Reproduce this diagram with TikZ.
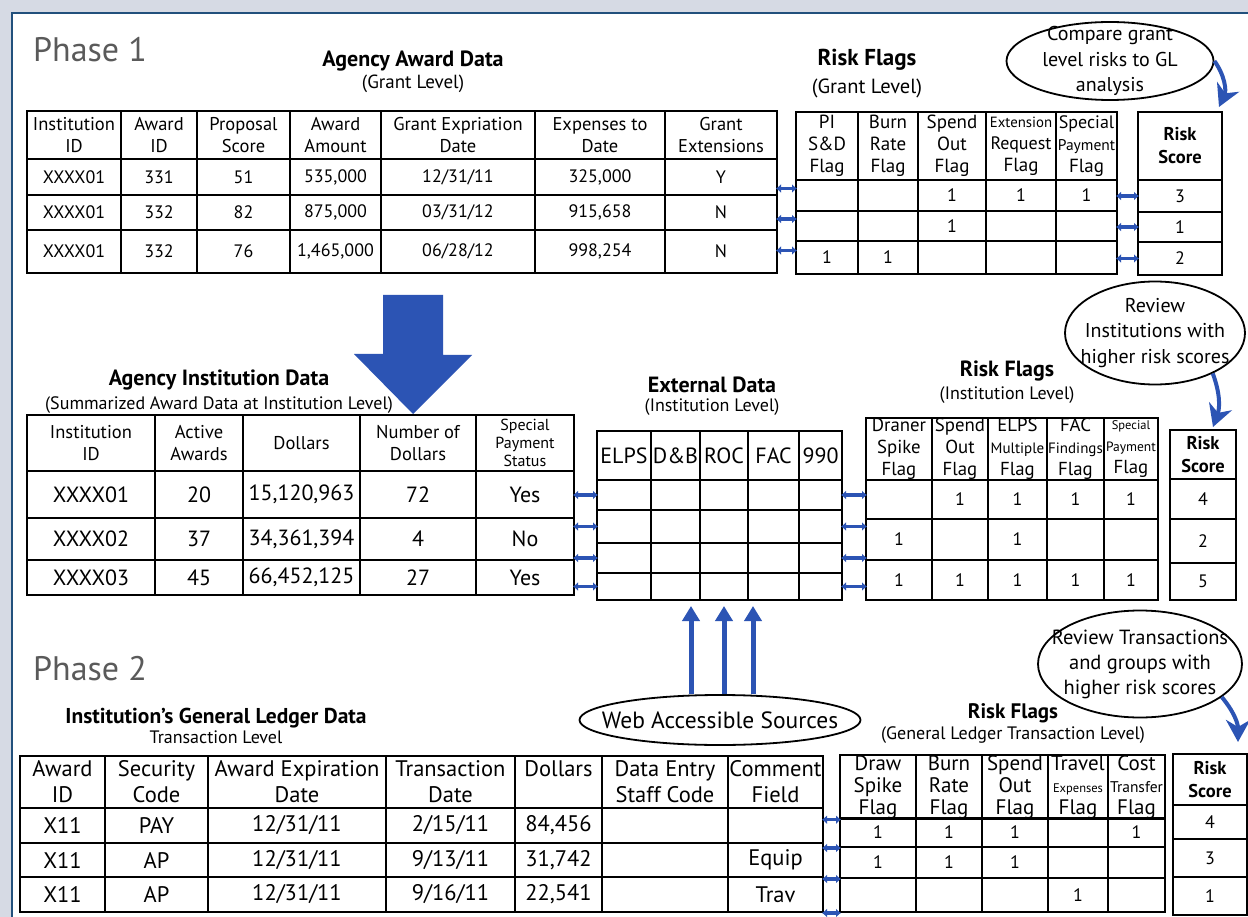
\documentclass[tikz,border=0pt]{standalone}
\usepackage{fontspec}
\setmainfont{PT Sans}
\usetikzlibrary{arrows.meta,shapes.geometric,positioning}

\definecolor{flow}{RGB}{44,84,180}
\definecolor{band}{RGB}{214,218,228}
\definecolor{frameblue}{RGB}{34,80,124}
\definecolor{phasegray}{RGB}{90,90,90}

\newcommand\setfs[2]{\fontsize{#1}{#2}\selectfont}
\newcommand\shrink[2]{{\fontsize{#1}{#1}\selectfont #2}}
% one table row: [style]{name}{top}{bottom}{xleft/xright/text,...}
\newcommand\trow[5][]{%
  \foreach \xa/\xb/\txt [count=\c] in {#5}
    \node[cell,#1,minimum width={\xb-\xa},minimum height={#4-#3}]
      (#2-\c) at ({(\xa+\xb)/2},{(#3+#4)/2}) {\txt};}

\begin{document}
\begin{tikzpicture}[x=1pt,y=-1pt,
  cell/.style={draw=black,line width=2pt,inner sep=0pt,align=center,font=\setfs{18}{22}},
  awhead/.style={font=\setfs{18.5}{22}},
  flaghead/.style={font=\setfs{18}{22}},
  rghead/.style={font=\setfs{19}{22}},
  rihead/.style={font=\setfs{18.8}{22}},
  rthead/.style={font=\setfs{21}{22}},
  bigcell/.style={font=\setfs{22}{26}},
  ledger/.style={font=\setfs{22.5}{26}},
  scorecell/.style={font=\setfs{18.5}{23}\bfseries},
  ttl/.style={inner sep=0pt,font=\setfs{22}{26}\bfseries},
  subttl/.style={inner sep=0pt,font=\setfs{18}{21}},
  phasettl/.style={inner sep=0pt,anchor=base west,text=phasegray,font=\setfs{34}{40}},
  note/.style={ellipse,draw=black,line width=1.8pt,align=center,inner sep=-30pt,font=\setfs{20}{25.5}},
  dbl/.style={flow,line width=3.5pt,shorten <=-2pt,shorten >=-2pt,{Latex[length=5pt,width=9pt]}-{Latex[length=5pt,width=9pt]}},
  curlarrow/.style={flow,line width=4pt,-{Stealth[length=22pt,width=24pt,inset=7pt]}},
  feedarrow/.style={flow,line width=5pt,-{Triangle[length=15pt,width=17pt]}}]

  \useasboundingbox (0,0) rectangle (1248,917);
  \fill[band] (0,0) rectangle (1248,917);
  \fill[white] (12,13) rectangle (1248,917);
  \draw[frameblue,line width=2.5pt] (12,917) -- (12,13) -- (1248,13);

  % Phase 1: award data
  \node[phasettl] (ph1) at (33,62) {Phase 1};
  \node[ttl] (awttl) at (413,61) {Agency Award Data};
  \node[subttl,font=\setfs{19}{22},below=3pt of awttl] (awsub) {(Grant Level)};
  \trow[awhead]{aw-0}{111}{159}{27/121/{Institution\\ID},121/197/{Award\\ID},197/290/{Proposal\\Score},290/381/{Award\\Amount},381/535/{Grant Expriation\\Date},535/665/{Expenses to\\Date},665/777/{Grant\\Extensions}}
  \trow{aw-1}{159}{195}{27/121/XXXX01,121/197/331,197/290/51,290/381/{535,000},381/535/{12/31/11},535/665/{325,000},665/777/Y}
  \trow{aw-2}{195}{230}{27/121/XXXX01,121/197/332,197/290/82,290/381/{875,000},381/535/{03/31/12},535/665/{915,658},665/777/N}
  \trow{aw-3}{230}{273}{27/121/XXXX01,121/197/332,197/290/76,290/381/{1,465,000},381/535/{06/28/12},535/665/{998,254},665/777/N}

  % grant level flags
  \node[ttl,font=\setfs{23}{26}\bfseries] (rgttl) at (867,60) {Risk Flags};
  \node[subttl,font=\setfs{20.5}{24},below=8pt of rgttl] (rgsub) {(Grant Level)};
  \trow[rghead]{rg-0}{112}{180}{796/858/{PI\\S\&D\\Flag},858/918/{Burn\\Rate\\Flag},918/986/{Spend\\Out\\Flag},986/1056/{\shrink{14.8}{Extension}\\\shrink{18}{Request}\\Flag},1056/1117/{\shrink{18}{Special}\\\shrink{15.5}{Payment}\\Flag}}
  \trow[flaghead]{rg-1}{180}{211}{796/858/{},858/918/{},918/986/1,986/1056/1,1056/1117/1}
  \trow[flaghead]{rg-2}{211}{241}{796/858/{},858/918/{},918/986/1,986/1056/{},1056/1117/{}}
  \trow[flaghead]{rg-3}{241}{274}{796/858/1,858/918/1,918/986/{},986/1056/{},1056/1117/{}}
  \trow[scorecell]{sg-0}{112}{180}{1138/1222/{Risk\\Score}}
  \trow[flaghead]{sg-1}{180}{212}{1138/1222/3}
  \trow[flaghead]{sg-2}{212}{242}{1138/1222/1}
  \trow[flaghead]{sg-3}{242}{275}{1138/1222/2}
  \node[note,minimum width=207,minimum height=78] (cmp) at (1110,61) {Compare grant\\level risks to GL\\analysis};

  % institution data
  \node[ttl] (inttl) at (219,380) {Agency Institution Data};
  \node[subttl,below=6pt of inttl] (insub) {(Summarized Award Data at Institution Level)};
  \trow[awhead]{in-0}{415}{471}{27/155/{Institution\\ID},155/243/{Active\\Awards},243/360/Dollars,360/476/{Number of\\Dollars},476/574/{\shrink{16}{Special}\\[-4pt]\shrink{16}{Payment}\\[-4pt]\shrink{16}{Status}}}
  \trow[bigcell]{in-1}{471}{518}{27/155/XXXX01,155/243/20,243/360/{15,120,963},360/476/72,476/574/Yes}
  \trow[bigcell]{in-2}{518}{560}{27/155/XXXX02,155/243/37,243/360/{34,361,394},360/476/4,476/574/No}
  \trow[bigcell]{in-3}{560}{595}{27/155/XXXX03,155/243/45,243/360/{66,452,125},360/476/27,476/574/Yes}

  \node[ttl] (exttl) at (712,385) {External Data};
  \node[subttl,below=5pt of exttl] (exsub) {(Institution Level)};
  \trow[bigcell]{ex-0}{431}{480}{597/651/ELPS,651/700/D\&B,700/748/ROC,748/799/FAC,799/842/990}
  \foreach \ya/\yb [count=\r] in {480/510,510/543,543/573,573/600} {
    \trow{ex-\r}{\ya}{\yb}{597/651/{},651/700/{},700/748/{},748/799/{},799/842/{}}
  }

  \node[ttl] (rittl) at (1007,371) {Risk Flags};
  \node[subttl,below=5pt of rittl] (risub) {(Institution Level)};
  \trow[rihead]{ri-0}{418}{480}{866/932/{Draner\\Spike\\Flag},932/988/{Spend\\Out\\Flag},988/1047/{ELPS\\\shrink{15}{Multiple}\\Flag},1047/1104/{FAC\\\shrink{15}{Findings}\\Flag},1104/1158/{\shrink{12.5}{Special}\\\shrink{13.5}{Payment}\\Flag}}
  \trow[flaghead]{ri-1}{480}{519}{866/932/{},932/988/1,988/1047/1,1047/1104/1,1104/1158/1}
  \trow[flaghead]{ri-2}{519}{560}{866/932/1,932/988/{},988/1047/1,1047/1104/{},1104/1158/{}}
  \trow[flaghead]{ri-3}{560}{600}{866/932/1,932/988/1,988/1047/1,1047/1104/1,1104/1158/1}
  \trow[scorecell]{si-0}{430}{479}{1170/1236/{Risk\\Score}}
  \trow[flaghead]{si-1}{479}{519}{1170/1236/4}
  \trow[flaghead]{si-2}{519}{563}{1170/1236/2}
  \trow[flaghead]{si-3}{563}{600}{1170/1236/5}
  \node[note,minimum width=180,minimum height=103] (revi) at (1155,333) {Review\\Institutions with\\higher risk scores};

  % Phase 2: general ledger
  \node[phasettl] (ph2) at (33,680) {Phase 2};
  \node[ttl,font=\setfs{21.5}{25}\bfseries] (glttl) at (216,718) {Institution’s General Ledger Data};
  \node[subttl,below=2pt of glttl] (glsub) {Transaction Level};
  \trow[ledger]{gl-0}{756}{808}{20/105/{Award\\ID},105/208/{Security\\Code},208/386/{Award Expiration\\Date},386/515/{Transaction\\Date},515/602/{Dollars\\{}},602/728/{Data Entry\\Staff Code},728/823/{Comment\\Field}}
  \trow[ledger]{gl-1}{808}{843}{20/105/X11,105/208/PAY,208/386/{12/31/11},386/515/{2/15/11},515/602/{84,456},602/728/{},728/823/{}}
  \trow[ledger]{gl-2}{843}{877}{20/105/X11,105/208/AP,208/386/{12/31/11},386/515/{9/13/11},515/602/{31,742},602/728/{},728/823/Equip}
  \trow[ledger]{gl-3}{877}{912}{20/105/X11,105/208/AP,208/386/{12/31/11},386/515/{9/16/11},515/602/{22,541},602/728/{},728/823/Trav}
  \node[note,font=\setfs{23.5}{27},minimum width=281,minimum height=50] (web) at (720,720) {Web Accessible Sources};

  \node[ttl,font=\setfs{21}{25}\bfseries] (rtttl) at (1013,713) {Risk Flags};
  \node[subttl,below=4pt of rtttl] (rtsub) {(General Ledger Transaction Level)};
  \trow[rthead]{rt-0}{756}{818}{840/916/{Draw\\Spike\\Flag},916/982/{Burn\\Rate\\Flag},982/1048/{Spend\\Out\\Flag},1048/1108/{Travel\\\shrink{12.5}{Expenses}\\Flag},1108/1165/{Cost\\\shrink{15.5}{Transfer}\\Flag}}
  \trow[flaghead]{rt-1}{818}{847}{840/916/1,916/982/1,982/1048/1,1048/1108/{},1108/1165/1}
  \trow[flaghead]{rt-2}{847}{878}{840/916/1,916/982/1,982/1048/1,1048/1108/{},1108/1165/{}}
  \trow[flaghead]{rt-3}{878}{912}{840/916/{},916/982/{},982/1048/{},1048/1108/1,1108/1165/{}}
  \trow[scorecell]{st-0}{754}{805}{1173/1247/{Risk\\Score}}
  \trow[flaghead]{st-1}{805}{839}{1173/1247/4}
  \trow[flaghead]{st-2}{839}{877}{1173/1247/3}
  \trow[flaghead]{st-3}{877}{915}{1173/1247/1}
  \node[note,font=\setfs{20.5}{25},minimum width=204,minimum height=107] (revt) at (1140,664) {Review Transactions\\and groups with\\higher risk scores};

  % links between tables
  \foreach \r in {1,2,3} {
    \draw[dbl] ([yshift=7pt]rg-\r-1.west -| aw-1-7.east) -- ([yshift=7pt]rg-\r-1.west);
    \draw[dbl] (rg-\r-5.east |- sg-\r-1.west) -- (sg-\r-1.west);
  }
  \coordinate (bigtop) at (413,295);
  \fill[flow] (bigtop) ++(-30,0) -- ++(60,0) -- ++(0,60) -- ++(29,0) -- (bigtop |- in-0-4.north) -- ++(-59,-60) -- ++(29,0) -- cycle;
  \foreach \r in {1,...,4} {
    \draw[dbl] (ex-\r-1.west -| in-1-5.east) -- (ex-\r-1.west);
    \draw[dbl] (ex-\r-5.east) -- (ex-\r-5.east -| ri-1-1.west);
  }
  \foreach \dx in {-29,4,33}
    \draw[feedarrow,shorten >=5pt] ([xshift=\dx pt]web.north) -- ([xshift=\dx pt]web.north |- ex-4-1.south);
  \foreach \r in {0,...,3}
    \draw[dbl] (rt-\r-1.south west -| gl-1-7.east) -- (rt-\r-1.south west);
  \draw[curlarrow] (cmp.east) to[bend left=30] ([xshift=-4pt,yshift=4pt]sg-0-1.north east);
  \draw[curlarrow] (revi.-35) to[bend left=20] ([xshift=10pt,yshift=2pt]si-0-1.north);
  \draw[curlarrow] (revt.-22) to[bend left=20] ([xshift=28pt,yshift=11pt]st-0-1.north);
\end{tikzpicture}
\end{document}
